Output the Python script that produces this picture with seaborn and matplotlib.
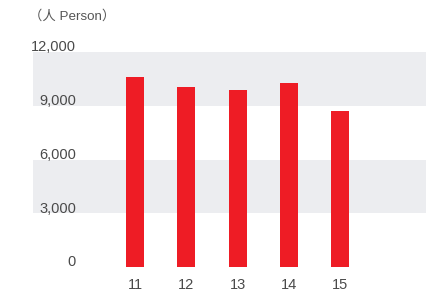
import matplotlib
matplotlib.use('Agg')
import matplotlib.pyplot as plt
import matplotlib.transforms as mtransforms
import seaborn as sns
import pandas as pd

years = ['11', '12', '13', '14', '15']
persons = [10600, 10050, 9900, 10280, 8700]
ytick_vals = [0, 3000, 6000, 9000, 12000]
ytick_labels = ['0', '3,000', '6,000', '9,000', '12,000']

sns.set_style('white')
plt.rcParams['font.family'] = ['Liberation Sans', 'Noto Sans CJK SC', 'DejaVu Sans']

df = pd.DataFrame({'year': years, 'persons': persons})

fig = plt.figure(figsize=(4.26, 2.94), dpi=100)
ax = fig.add_axes([33 / 426, 27 / 294, 393 / 426, 215 / 294])

# grey bands
ax.axhspan(9000, 12000, color='#ECEDF0', zorder=0, lw=0)
ax.axhspan(3000, 6000, color='#ECEDF0', zorder=0, lw=0)

sns.barplot(data=df, x='year', y='persons', color='#EE1C25', width=0.35,
            saturation=1, linewidth=0, ax=ax, zorder=2)

ax.set_xlim(-1.99, 5.67)
ax.set_ylim(0, 12000)
ax.set_xlabel('')
ax.set_ylabel('')
ax.set_yticks([])
for s in ax.spines.values():
    s.set_visible(False)
ax.tick_params(axis='x', length=0, pad=8, labelsize=10.5, labelcolor='#4a4a4a')

# y labels sit inside the axes, just above each line
trans = mtransforms.blended_transform_factory(ax.transAxes, ax.transData)
trans = mtransforms.offset_copy(trans, fig=fig, x=0, y=3.3, units='points')
for v, lab in zip(ytick_vals, ytick_labels):
    ax.text(43 / 393, v, lab, transform=trans, ha='right', va='center',
            fontsize=10.5, color='#4a4a4a', clip_on=False)

fig.text(29 / 426, 1 - 16 / 294, '（人 Person）', ha='left', va='center',
         fontsize=9.6, color='#555555')

fig.savefig('out.png', dpi=100)
